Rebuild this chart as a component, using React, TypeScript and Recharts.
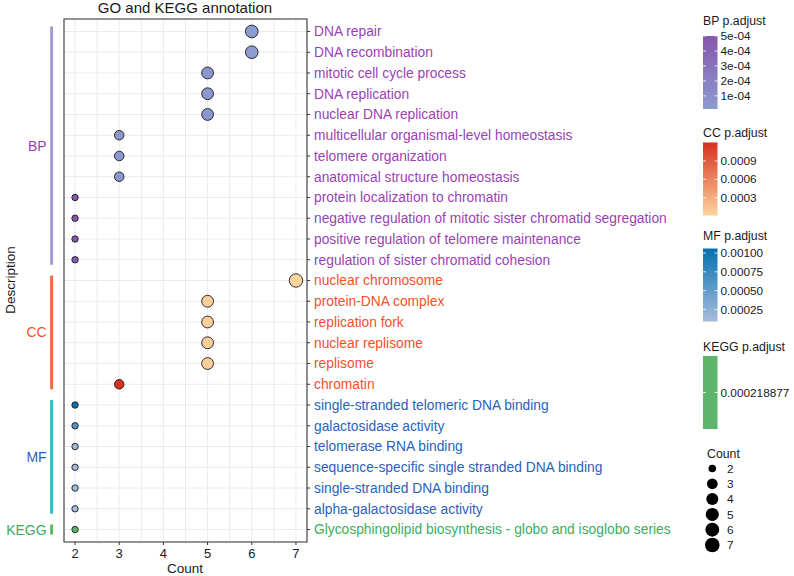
import React from 'react';
import { ScatterChart, Scatter, XAxis, YAxis, CartesianGrid, ReferenceLine, ReferenceArea } from 'recharts';

// terms, top to bottom
const terms = [
  'DNA repair',
  'DNA recombination',
  'mitotic cell cycle process',
  'DNA replication',
  'nuclear DNA replication',
  'multicellular organismal-level homeostasis',
  'telomere organization',
  'anatomical structure homeostasis',
  'protein localization to chromatin',
  'negative regulation of mitotic sister chromatid segregation',
  'positive regulation of telomere maintenance',
  'regulation of sister chromatid cohesion',
  'nuclear chromosome',
  'protein-DNA complex',
  'replication fork',
  'nuclear replisome',
  'replisome',
  'chromatin',
  'single-stranded telomeric DNA binding',
  'galactosidase activity',
  'telomerase RNA binding',
  'sequence-specific single stranded DNA binding',
  'single-stranded DNA binding',
  'alpha-galactosidase activity',
  'Glycosphingolipid biosynthesis - globo and isoglobo series',
];
const ontology = [
  'BP', 'BP', 'BP', 'BP', 'BP', 'BP', 'BP', 'BP', 'BP', 'BP', 'BP', 'BP',
  'CC', 'CC', 'CC', 'CC', 'CC', 'CC',
  'MF', 'MF', 'MF', 'MF', 'MF', 'MF',
  'KEGG',
];
const counts = [6, 6, 5, 5, 5, 3, 3, 3, 2, 2, 2, 2, 7, 5, 5, 5, 5, 3, 2, 2, 2, 2, 2, 2, 2];
const padjust = [
  1.2e-5, 1.5e-5, 4e-5, 4e-5, 4e-5, 4e-5, 4e-5, 4e-5, 5e-4, 5e-4, 4.8e-4, 4.6e-4,
  1e-5, 5e-5, 5e-5, 5e-5, 5e-5, 1.2e-3,
  1.06e-3, 5.8e-4, 1.2e-4, 1.2e-4, 1.2e-4, 9e-5,
  0.000218877,
];

const xTicks = [2, 3, 4, 5, 6, 7];
const xGrid = [2, 2.5, 3, 3.5, 4, 4.5, 5, 5.5, 6, 6.5, 7];
const groupNames = ['BP', 'CC', 'MF', 'KEGG'];

const bpLegendTicks = [1e-4, 2e-4, 3e-4, 4e-4, 5e-4];
const bpLegendLabels = ['1e-04', '2e-04', '3e-04', '4e-04', '5e-04'];
const ccLegendTicks = [0.0003, 0.0006, 0.0009];
const ccLegendLabels = ['0.0003', '0.0006', '0.0009'];
const mfLegendTicks = [0.00025, 0.0005, 0.00075, 0.001];
const mfLegendLabels = ['0.00025', '0.00050', '0.00075', '0.00100'];
const keggLegendTicks = [0.000218877];
const keggLegendLabels = ['0.000218877'];
const countLegend = [2, 3, 4, 5, 6, 7];

const FONT = '"Liberation Sans", Arial, sans-serif';

const groupStyle: Record<string, { text: string; bar: string; low: string; high: string }> = {
  BP: { text: '#9c3fb5', bar: '#a09cd0', low: '#8c9bd0', high: '#8656aa' },
  CC: { text: '#f5502a', bar: '#f26a3e', low: '#fdd49e', high: '#d7301f' },
  MF: { text: '#2a62bb', bar: '#3cb6c8', low: '#a6bddb', high: '#0570b0' },
  KEGG: { text: '#3aae5d', bar: '#5cb85c', low: '#5cb56b', high: '#5cb56b' },
};

const hexToRgb = (h: string) => [1, 3, 5].map((i) => parseInt(h.slice(i, i + 2), 16));
const mix = (a: string, b: string, t: number) => {
  const A = hexToRgb(a);
  const B = hexToRgb(b);
  return 'rgb(' + A.map((v, i) => Math.round(v + (B[i] - v) * t)).join(',') + ')';
};

const limits = (g: string) => {
  const vals = padjust.filter((_, i) => ontology[i] === g);
  return [Math.min(...vals), Math.max(...vals)];
};

const pColor = (g: string, p: number) => {
  const [lo, hi] = limits(g);
  const t = hi > lo ? (p - lo) / (hi - lo) : 0.5;
  return mix(groupStyle[g].low, groupStyle[g].high, t);
};

const radius = (c: number) => 3.2 + 3.5 * Math.sqrt((c - 2) / 5);

const data = terms.map((term, i) => ({
  term,
  row: i,
  count: counts[i],
  p: padjust[i],
  group: ontology[i],
}));

const Dot = (props: any) => {
  const { cx, cy, payload } = props;
  return (
    <circle cx={cx} cy={cy} r={radius(payload.count)} fill={pColor(payload.group, payload.p)} stroke="#1a1a1a" strokeWidth={0.9} />
  );
};

const TermTick = (props: any) => {
  const { x, y, payload } = props;
  const g = ontology[payload.value];
  return (
    <text x={x} y={y} dy="0.35em" textAnchor="start" fill={groupStyle[g].text} fontSize={13.8} fontFamily={FONT}>
      {terms[payload.value]}
    </text>
  );
};

const ColorBar = ({ g, title, ticks, labels, titleY, top }: any) => {
  const h = 73;
  const x = 703;
  const w = 14.5;
  const [lo, hi] = limits(g);
  const yOf = (v: number) => (hi > lo ? top + ((hi - v) / (hi - lo)) * h : top + h / 2);
  const id = 'grad-' + g;
  return (
    <g fontFamily={FONT}>
      <defs>
        <linearGradient id={id} x1="0" y1="0" x2="0" y2="1">
          {[0, 0.25, 0.5, 0.75, 1].map((t) => (
            <stop key={t} offset={t} stopColor={mix(groupStyle[g].high, groupStyle[g].low, t)} />
          ))}
        </linearGradient>
      </defs>
      <text x={x} y={titleY} fontSize={12.3} fill="#1a1a1a">{title}</text>
      <rect x={x} y={top} width={w} height={h} fill={`url(#${id})`} />
      {ticks.map((v: number, i: number) => (
        <g key={i}>
          <line x1={x} x2={x + 3} y1={yOf(v)} y2={yOf(v)} stroke="#fff" strokeWidth={0.8} />
          <line x1={x + w - 3} x2={x + w} y1={yOf(v)} y2={yOf(v)} stroke="#fff" strokeWidth={0.8} />
          <text x={x + w + 3} y={yOf(v)} dy="0.35em" fontSize={11.8} fill="#1a1a1a">{labels[i]}</text>
        </g>
      ))}
    </g>
  );
};

const Overlay = () => (
  <svg width={794} height={576} style={{ position: 'absolute', left: 0, top: 0, pointerEvents: 'none' }}>
    <text x={185} y={13} textAnchor="middle" fontSize={15} fontFamily={FONT} fill="#1a1a1a">GO and KEGG annotation</text>
    <text x={15} y={280} transform="rotate(-90 15 280)" textAnchor="middle" fontSize={13.5} fontFamily={FONT} fill="#1a1a1a">Description</text>
    <text x={185} y={573} textAnchor="middle" fontSize={13.5} fontFamily={FONT} fill="#1a1a1a">Count</text>
    <ColorBar g="BP" title="BP p.adjust" ticks={bpLegendTicks} labels={bpLegendLabels} titleY={24.5} top={36} />
    <ColorBar g="CC" title="CC p.adjust" ticks={ccLegendTicks} labels={ccLegendLabels} titleY={136.5} top={142.5} />
    <ColorBar g="MF" title="MF p.adjust" ticks={mfLegendTicks} labels={mfLegendLabels} titleY={240} top={248.5} />
    <ColorBar g="KEGG" title="KEGG p.adjust" ticks={keggLegendTicks} labels={keggLegendLabels} titleY={350.5} top={356} />
    <g fontFamily={FONT}>
      <text x={707} y={458} fontSize={12.3} fill="#1a1a1a">Count</text>
      {countLegend.map((c, i) => (
        <g key={c}>
          <circle cx={712.3} cy={468.5 + i * 15.3} r={radius(c) + 0.6} fill="#000" />
          <text x={727} y={468.5 + i * 15.3} dy="0.35em" fontSize={11.8} fill="#1a1a1a">{c}</text>
        </g>
      ))}
    </g>
  </svg>
);

export default function App() {
  return (
    <div style={{ position: 'absolute', left: 0, top: 0, width: 794, height: 576, background: '#fff' }}>
      <ScatterChart width={794} height={576} margin={{ top: 19, right: 0, bottom: 0, left: 64 }}>
        <CartesianGrid stroke="#ebebeb" strokeWidth={1} verticalValues={xGrid} />
        <XAxis
          type="number"
          dataKey="count"
          domain={[1.75, 7.25]}
          ticks={xTicks}
          interval={0}
          height={34}
          tickSize={3}
          tickMargin={4}
          axisLine={false}
          tickLine={{ stroke: '#333' }}
          tick={{ fill: '#1a1a1a', fontSize: 13, fontFamily: FONT }}
        />
        <YAxis
          type="number"
          dataKey="row"
          orientation="right"
          reversed
          domain={[-0.6, 24.6]}
          ticks={terms.map((_, i) => i)}
          interval={0}
          width={487}
          tickSize={3}
          tickMargin={4}
          axisLine={false}
          tickLine={{ stroke: '#333' }}
          tick={<TermTick />}
        />
        <ReferenceArea x1={1.75} x2={7.25} y1={-0.6} y2={24.6} fill="none" stroke="#333" strokeWidth={1.1} />
        {groupNames.map((g) => {
          const rows = data.filter((d) => d.group === g).map((d) => d.row);
          return (
            <ReferenceLine
              key={g}
              ifOverflow="visible"
              segment={[
                { x: 1.47, y: Math.min(...rows) - 0.24 },
                { x: 1.47, y: Math.max(...rows) + 0.24 },
              ]}
              stroke={groupStyle[g].bar}
              strokeWidth={3}
              label={{ value: g, position: 'left', offset: 5, fill: groupStyle[g].text, fontSize: 14, fontFamily: FONT }}
            />
          );
        })}
        <Scatter data={data} shape={<Dot />} isAnimationActive={false} />
      </ScatterChart>
      <Overlay />
    </div>
  );
}
